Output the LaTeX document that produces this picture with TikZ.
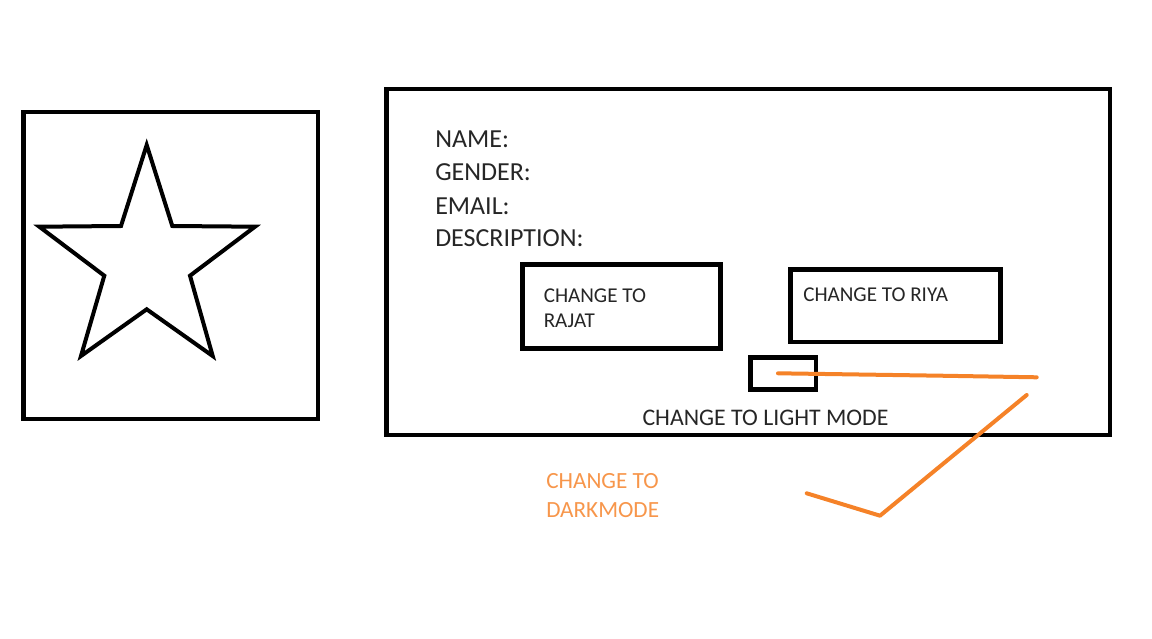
\documentclass[tikz,border=0pt]{standalone}
\usepackage{fontspec}
\setmainfont{Carlito}
\usepackage{xcolor}
\definecolor{penorange}{RGB}{245,130,40}
\definecolor{textorange}{RGB}{247,150,75}
\definecolor{ink}{RGB}{38,38,38}

\begin{document}
\begin{tikzpicture}[x=1pt,y=-1pt,line width=4.5pt,
	box/.style={rectangle,draw=black,inner sep=0pt},
	field/.style={anchor=base west,inner sep=0pt,text=ink,font=\fontsize{26}{33}\selectfont},
	btntext/.style={inner sep=0pt,text=ink,align=left,font=\fontsize{21.1}{25}\selectfont},
	pen/.style={draw=penorange,line width=4pt,line cap=round,line join=round}]
	\useasboundingbox (0,0) rectangle (1152,639);
	% profile picture
	\node (pic) at (170.5,265.5) [box,minimum width=294.5pt,minimum height=306.5pt] {};
	\draw [line width=4pt,line join=miter] (146.7,145) -- (172.3,226) -- (255,226.7) -- (190,275.7)
		-- (212.7,356) -- (146.7,309.3) -- (81,356) -- (104.3,275.7) -- (39.3,226.7) -- (121,226) -- cycle;
	% details card
	\node (card) at (748,262) [box,minimum width=723.5pt,minimum height=345.5pt] {};
	\node (name) at (433,148) [field] {NAME:};
	\node (gender) at (433,181) [field] {GENDER:};
	\node (email) at (433,214.5) [field] {EMAIL:};
	\node (desc) at (433,246.5) [field] {DESCRIPTION:};
	% buttons
	\node (rajat) at (621.35,306.5) [box,minimum width=198.2pt,minimum height=83.9pt] {};
	\node (rajattext) at (541.5,286.3) [btntext,anchor=north west] {CHANGE TO\\RAJAT};
	\node (riya) at (895.5,305.65) [box,minimum width=209.9pt,minimum height=72.2pt] {};
	\node (riyatext) at (801,301.7) [btntext,anchor=base west] {CHANGE TO RIYA};
	\node (toggle) at (783.3,373.35) [box,minimum width=65.5pt,minimum height=32.2pt] {};
	\node (light) at (765.5,425) [field,anchor=base,font=\fontsize{23.8}{28}\selectfont] {CHANGE TO LIGHT MODE};
	% note
	\node (dark) at (544,471.3) [btntext,anchor=north west,text=textorange,
		font=\fontsize{23.2}{28.4}\selectfont] {CHANGE TO\\DARKMODE};
	\coordinate (s1) at (778,373.3);
	\coordinate (s2) at (940,375.7);
	\coordinate (s3) at (1036.7,377.3);
	\coordinate (t1) at (1026.7,395);
	\coordinate (t2) at (880,515.7);
	\coordinate (t3) at (806.7,493.3);
	\draw [pen] (s1) -- (s2) -- (s3);
	\draw [pen] (t1) -- (t2) -- (t3);
\end{tikzpicture}
\end{document}
